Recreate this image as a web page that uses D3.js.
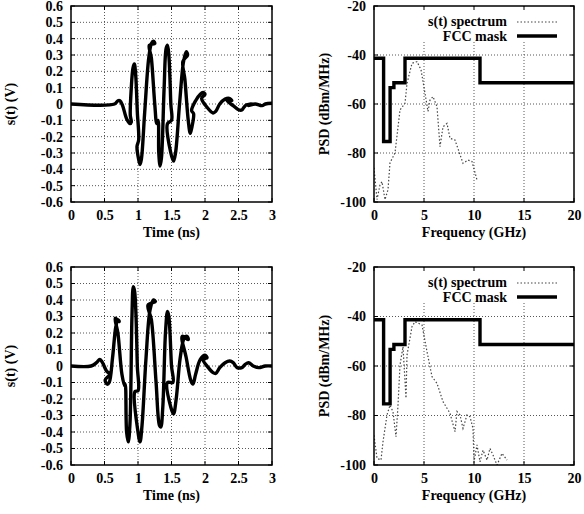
<!DOCTYPE html>
<html>
<head>
<meta charset="utf-8">
<script src="https://cdn.jsdelivr.net/npm/d3@7"></script>
<style>
  body { margin: 0; background: #fff; }
  svg text { font-family: "Liberation Serif", "Times New Roman", serif; font-weight: bold; fill: #000; }
</style>
</head>
<body>
<svg id="chart" width="584" height="514"></svg>
<script>
// ---- data ----
var timeTicks = [0, 0.5, 1, 1.5, 2, 2.5, 3];
var voltTicks = [-0.6, -0.5, -0.4, -0.3, -0.2, -0.1, 0, 0.1, 0.2, 0.3, 0.4, 0.5, 0.6];
var freqTicks = [0, 5, 10, 15, 20];
var psdTicks = [-100, -80, -60, -40, -20];

// pulse 1 (top), [time ns, volts]
var pulseTop = [
  [0, 0], [0.65, 0], [0.7, 0.02], [0.73, 0.02], [0.77, -0.01], [0.83, -0.09], [0.88, -0.12], [0.9, -0.11],
  [0.885, -0.07], [0.9, 0.1], [0.925, 0.22], [0.945, 0.245], [0.965, 0.18], [0.99, -0.05], [1.01, -0.22],
  [0.985, -0.26], [1.01, -0.34], [1.03, -0.37], [1.05, -0.34], [1.1, -0.05], [1.16, 0.28], [1.2, 0.37], [1.23, 0.385], [1.25, 0.37],
  [1.17, 0.36], [1.2, 0.28], [1.25, 0.0], [1.28, -0.12],
  [1.3, -0.1], [1.31, -0.3], [1.33, -0.38], [1.35, -0.33], [1.39, 0.1], [1.42, 0.34], [1.44, 0.36], [1.46, 0.3], [1.49, 0.0], [1.5, -0.1],
  [1.44, -0.12], [1.49, -0.3], [1.53, -0.35], [1.56, -0.3], [1.62, 0.0], [1.68, 0.26], [1.72, 0.32], [1.74, 0.3],
  [1.67, 0.26], [1.7, 0.15], [1.75, -0.1], [1.78, -0.18], [1.8, -0.15], [1.83, -0.06],
  [1.8, -0.04], [1.86, 0.02], [1.93, 0.06], [1.97, 0.07], [2.0, 0.06],
  [1.95, 0.035], [2.03, -0.02], [2.12, -0.055], [2.16, -0.045], [2.22, 0.0], [2.3, 0.03], [2.36, 0.035], [2.4, 0.02],
  [2.33, 0.02], [2.42, -0.01], [2.5, -0.035], [2.55, -0.037], [2.58, -0.02], [2.62, -0.005], [2.7, 0.0],
  [2.65, -0.01], [2.75, 0.0], [2.85, -0.01], [2.9, 0.0], [3.0, 0.005]
];

// pulse 2 (bottom)
var pulseBottom = [
  [0, 0], [0.3, 0], [0.38, 0.02], [0.43, 0.04], [0.47, 0.02], [0.53, -0.03], [0.58, -0.05],
  [0.51, -0.085], [0.54, -0.11], [0.57, -0.1], [0.62, 0.05], [0.67, 0.24], [0.7, 0.28], [0.72, 0.27],
  [0.66, 0.29], [0.7, 0.2], [0.76, -0.05], [0.8, -0.12],
  [0.81, -0.11], [0.83, -0.4], [0.855, -0.46], [0.88, -0.35], [0.91, 0.3], [0.93, 0.48], [0.95, 0.45], [0.99, 0.0], [1.0, -0.15],
  [0.955, -0.155], [1.0, -0.4], [1.03, -0.46], [1.06, -0.36], [1.12, 0.05], [1.18, 0.34], [1.23, 0.4], [1.26, 0.39],
  [1.15, 0.37], [1.2, 0.28], [1.27, -0.1], [1.32, -0.36], [1.34, -0.37], [1.37, -0.25], [1.41, 0.2], [1.44, 0.33], [1.46, 0.3], [1.5, 0.0], [1.52, -0.1],
  [1.44, -0.1], [1.49, -0.25], [1.53, -0.29], [1.57, -0.2], [1.63, 0.05], [1.69, 0.17], [1.73, 0.18], [1.75, 0.16],
  [1.66, 0.18], [1.72, 0.05], [1.79, -0.09], [1.82, -0.11], [1.86, -0.05], [1.93, 0.04], [2.0, 0.065], [2.03, 0.05],
  [1.97, 0.04], [2.05, -0.01], [2.12, -0.04], [2.16, -0.045], [2.22, -0.01], [2.3, 0.02], [2.37, 0.03], [2.42, 0.02],
  [2.48, -0.01], [2.55, -0.01], [2.6, 0.01], [2.65, 0.02], [2.72, 0.0], [2.8, -0.01], [2.9, 0.0], [3.0, 0.0]
];

// FCC indoor mask, [GHz, dBm/MHz]
var maskFreq = [0, 0.96, 0.96, 1.61, 1.61, 1.99, 1.99, 3.1, 3.1, 10.6, 10.6, 20];
var maskPsd = [-41.3, -41.3, -75.3, -75.3, -53.3, -53.3, -51.3, -51.3, -41.3, -41.3, -51.3, -51.3];

// spectrum of pulse 1
var specTopFreq = [0, 0.3, 0.6, 0.8, 1.1, 1.4, 1.6, 2.1, 2.6, 3.1, 3.3, 3.8, 4.3, 4.7, 5.1, 5.4, 5.6, 5.9, 6.3, 6.6, 6.9, 7.3, 7.6, 8.1, 8.9, 9.4, 9.8, 10.3];
var specTopPsd = [-86, -99, -93, -91.7, -99, -95, -84, -80, -62.4, -59.7, -51.6, -43.4, -42.7, -46, -55.6, -63, -58.4, -57, -61.1, -77.4, -69.3, -67.9, -74, -74.7, -84.2, -82.9, -83.5, -91];

// spectrum of pulse 2
var specBotFreq = [0, 0.3, 0.7, 0.9, 1.3, 1.6, 1.9, 2.2, 2.4, 2.6, 2.9, 3.2, 3.3, 3.8, 4.1, 4.8, 5.3, 5.8, 6.3, 6.9, 7.6, 8.1, 8.3, 8.6, 8.9, 9.3, 9.6, 9.9, 10.0, 10.3, 10.6, 10.9, 11.3, 11.6, 11.9, 12.3, 12.8, 13.3];
var specBotPsd = [-88, -97.3, -98, -90.6, -79.8, -75.8, -78.5, -88.6, -75.8, -59.6, -52.2, -73, -55.6, -44.1, -42.1, -43.4, -54.2, -64.3, -67, -74.4, -79.1, -86.5, -78.4, -79.8, -85.2, -79.8, -80.5, -85.2, -98.7, -91.9, -98.7, -94, -98, -93.3, -96, -100, -95.3, -98];

var svg = d3.select("#chart");

// panel boxes in pixels
var panels = [
  {x0: 71, x1: 272, y0: 6, y1: 202, kind: "time", data: pulseTop},
  {x0: 374, x1: 574, y0: 6, y1: 202, kind: "freq", freq: specTopFreq, psd: specTopPsd},
  {x0: 71, x1: 272, y0: 267, y1: 465, kind: "time", data: pulseBottom},
  {x0: 374, x1: 574, y0: 267, y1: 465, kind: "freq", freq: specBotFreq, psd: specBotPsd}
];

var fontSize = "14px";

panels.forEach(function (p) {
  var isTime = p.kind == "time";
  var x = d3.scaleLinear().domain(isTime ? [0, 3] : [0, 20]).range([p.x0, p.x1]);
  var y = d3.scaleLinear().domain(isTime ? [-0.6, 0.6] : [-100, -20]).range([p.y1, p.y0]);
  var xt = isTime ? timeTicks : freqTicks;
  var yt = isTime ? voltTicks : psdTicks;
  var g = svg.append("g");

  // dotted grid
  g.selectAll(null).data(xt.slice(1, -1)).enter().append("line")
    .attr("x1", d => x(d)).attr("x2", d => x(d))
    .attr("y1", p.y0).attr("y2", p.y1)
    .attr("stroke", "#444").attr("stroke-width", 0.9).attr("stroke-dasharray", "1,2");
  g.selectAll(null).data(yt.slice(1, -1)).enter().append("line")
    .attr("x1", p.x0).attr("x2", p.x1)
    .attr("y1", d => y(d)).attr("y2", d => y(d))
    .attr("stroke", "#444").attr("stroke-width", 0.9).attr("stroke-dasharray", "1,2");

  // legend area blanks the grid
  if (!isTime) {
    g.append("rect").attr("x", p.x0 + 1).attr("y", p.y0 + 1)
      .attr("width", p.x1 - p.x0 - 2).attr("height", 35).attr("fill", "#fff");
  }

  // inward ticks on all four sides
  xt.forEach(function (d) {
    g.append("line").attr("x1", x(d)).attr("x2", x(d)).attr("y1", p.y1).attr("y2", p.y1 - 4).attr("stroke", "#000");
    g.append("line").attr("x1", x(d)).attr("x2", x(d)).attr("y1", p.y0).attr("y2", p.y0 + 4).attr("stroke", "#000");
  });
  yt.forEach(function (d) {
    g.append("line").attr("x1", p.x0).attr("x2", p.x0 + 4).attr("y1", y(d)).attr("y2", y(d)).attr("stroke", "#000");
    g.append("line").attr("x1", p.x1).attr("x2", p.x1 - 4).attr("y1", y(d)).attr("y2", y(d)).attr("stroke", "#000");
  });

  // axes, labels only
  var xAxis = g.append("g").attr("transform", "translate(0," + p.y1 + ")")
    .call(d3.axisBottom(x).tickValues(xt).tickSize(0).tickPadding(8).tickFormat(d => String(+d.toFixed(1))));
  var yAxis = g.append("g").attr("transform", "translate(" + p.x0 + ",0)")
    .call(d3.axisLeft(y).tickValues(yt).tickSize(0).tickPadding(8).tickFormat(d => String(+d.toFixed(1))));
  [xAxis, yAxis].forEach(function (a) {
    a.select(".domain").remove();
    a.selectAll("text").style("font-size", fontSize).style("font-family", "Liberation Serif").style("font-weight", "bold");
  });

  // axis titles
  g.append("text").attr("x", (p.x0 + p.x1) / 2).attr("y", p.y1 + 35)
    .attr("text-anchor", "middle").style("font-size", fontSize)
    .text(isTime ? "Time (ns)" : "Frequency (GHz)");
  var ly = (p.y0 + p.y1) / 2;
  var lx = isTime ? 15 : 329;
  g.append("text").attr("transform", "translate(" + lx + "," + ly + ") rotate(-90)")
    .attr("text-anchor", "middle").style("font-size", fontSize)
    .text(isTime ? "s(t) (V)" : "PSD (dBm/MHz)");

  // clip to panel
  var clipId = "clip" + p.x0 + "_" + p.y0;
  svg.append("clipPath").attr("id", clipId).append("rect")
    .attr("x", p.x0).attr("y", p.y0).attr("width", p.x1 - p.x0).attr("height", p.y1 - p.y0);
  var plot = g.append("g").attr("clip-path", "url(#" + clipId + ")");

  if (isTime) {
    plot.append("path").datum(p.data)
      .attr("fill", "none").attr("stroke", "#000").attr("stroke-width", 3.4)
      .attr("stroke-linejoin", "round").attr("stroke-linecap", "round")
      .attr("d", d3.line().curve(d3.curveCatmullRom.alpha(0.5)).x(d => x(d[0])).y(d => y(d[1])));
  } else {
    var spec = p.freq.map((f, i) => [f, p.psd[i]]);
    var mask = maskFreq.map((f, i) => [f, maskPsd[i]]);
    plot.append("path").datum(spec)
      .attr("fill", "none").attr("stroke", "#444").attr("stroke-width", 1.2)
      .attr("stroke-dasharray", "1.5,2")
      .attr("d", d3.line().x(d => x(d[0])).y(d => y(d[1])));
    plot.append("path").datum(mask)
      .attr("fill", "none").attr("stroke", "#000").attr("stroke-width", 3.4)
      .attr("d", d3.line().x(d => x(d[0])).y(d => y(d[1])));

    // legend
    var lg = g.append("g");
    lg.append("text").attr("x", p.x0 + 133).attr("y", p.y0 + 20).attr("text-anchor", "end")
      .style("font-size", fontSize).text("s(t) spectrum");
    lg.append("line").attr("x1", p.x0 + 143).attr("x2", p.x0 + 183).attr("y1", p.y0 + 16).attr("y2", p.y0 + 16)
      .attr("stroke", "#444").attr("stroke-width", 1.2).attr("stroke-dasharray", "1.5,2");
    lg.append("text").attr("x", p.x0 + 133).attr("y", p.y0 + 35).attr("text-anchor", "end")
      .style("font-size", fontSize).text("FCC mask");
    lg.append("line").attr("x1", p.x0 + 143).attr("x2", p.x0 + 183).attr("y1", p.y0 + 30).attr("y2", p.y0 + 30)
      .attr("stroke", "#000").attr("stroke-width", 3.4);
  }

  // frame
  g.append("rect").attr("x", p.x0).attr("y", p.y0)
    .attr("width", p.x1 - p.x0).attr("height", p.y1 - p.y0)
    .attr("fill", "none").attr("stroke", "#000").attr("stroke-width", 1.5);
});
</script>
</body>
</html>
